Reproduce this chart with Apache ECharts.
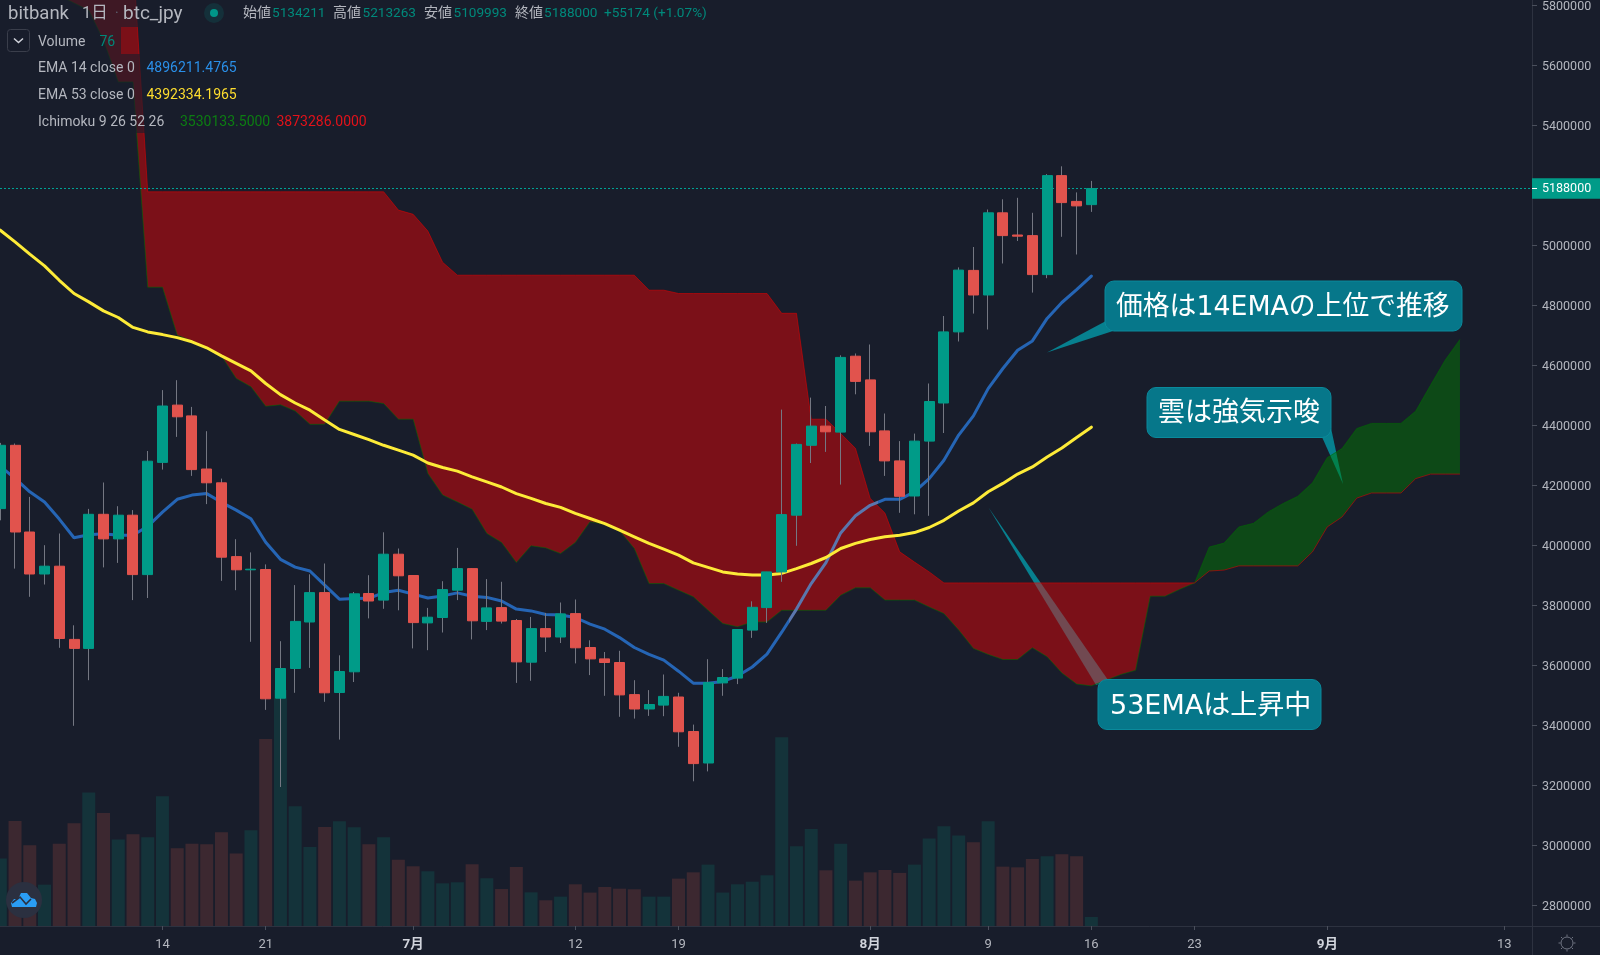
<!DOCTYPE html>
<html>
<head>
<meta charset="utf-8">
<title>bitbank btc_jpy</title>
<script src="https://cdn.jsdelivr.net/npm/echarts@6/dist/echarts.min.js"></script>
<style>
  html, body { margin: 0; padding: 0; background: #181d2b; }
  #chart { width: 1600px; height: 955px; }
</style>
</head>
<body>
<div id="chart"></div>
<script>
// all prices below are in thousands of yen, index 0 is 3 June
const opens = [4121,4332,4043,3903,3929,3685,3655,4102,4020,4099,3901,4275,4466,4430,4253,4207,3961,3917,3918,3489,3588,3743,3841,3508,3577,3838,3816,3969,3898,3740,3758,3849,3921,3745,3791,3748,3609,3721,3693,3771,3658,3620,3608,3501,3453,3466,3493,3378,3273,3540,3556,3716,3791,3910,4099,4332,4396,4376,4629,4550,4380,4280,4163,4346,4473,4710,4915,4833,5107,5033,5031,4901,5231,5145,5134.211];
const closes = [4332,4043,3903,3929,3688,3655,4102,4020,4099,3901,4279,4463,4427,4251,4207,3959,3917,3919,3487,3588,3745,3841,3507,3578,3837,3813,3969,3897,3741,3759,3851,3921,3747,3790,3746,3610,3721,3693,3770,3657,3620,3608,3500,3453,3468,3495,3377,3271,3541,3558,3718,3792,3910,4101,4335,4396,4377,4625,4545,4377,4280,4162,4346,4478,4710,4916,4833,5107,5031,5029,4901,5231,5141,5130,5188];
const lows = [4082,3921,3827,3868,3657,3397,3549,3925,3940,3816,3823,4251,4360,4230,4136,3880,3849,3677,3450,3193,3507,3590,3477,3351,3543,3755,3787,3782,3655,3649,3708,3816,3685,3716,3738,3540,3547,3643,3673,3605,3566,3497,3427,3421,3430,3429,3327,3212,3245,3497,3536,3690,3740,3877,3997,4273,4310,4201,4502,4330,4230,4107,4102,4097,4373,4678,4771,4718,4938,5013,4841,4889,5027,4968,5109.993];
const highs = [4340,4338,4160,3999,4038,3732,4120,4208,4129,4116,4313,4516,4549,4460,4379,4221,4019,3975,3935,3679,3866,3902,3938,3632,3843,3899,4042,3988,3899,3790,3879,3990,3922,3886,3877,3753,3760,3773,3808,3818,3682,3643,3647,3549,3516,3568,3507,3401,3619,3586,3719,3812,3910,4451,4338,4491,4463,4632,4638,4668,4438,4346,4371,4538,4763,4925,4993,5118,5152,5157,5107,5236,5262,5175,5213.263];
const volumes = [569,887,681,349,695,867,1126,954,729,774,749,1095,656,695,690,791,611,808,1579,1992,1011,667,836,884,833,690,749,560,504,462,360,369,521,403,312,498,284,217,248,352,282,329,315,310,248,248,400,453,518,282,352,374,428,1593,673,819,470,695,383,453,473,448,518,738,842,763,707,884,501,495,566,588,605,588,76];
const ema14 = [4262,4222,4177,4143,4086,4024,4034,4037,4032,4032,4062,4109,4152,4166,4171,4142,4116,4087,4009,3952,3926,3913,3866,3819,3821,3822,3841,3849,3836,3823,3830,3840,3829,3825,3813,3786,3780,3768,3766,3758,3736,3719,3691,3658,3635,3616,3579,3539,3539,3545,3563,3593,3636,3709,3786,3871,3941,4040,4097,4132,4152,4152,4177,4221,4282,4366,4430,4521,4588,4649,4680,4755,4808,4851,4896.211];
const ema53 = [5049,5010,4969,4930,4882,4838,4810,4780,4758,4725,4710,4701,4691,4677,4657,4630,4605,4580,4538,4501,4473,4449,4416,4385,4368,4351,4332,4316,4299,4273,4258,4246,4227,4210,4193,4171,4155,4138,4125,4105,4088,4071,4049,4027,4005,3986,3966,3940,3925,3910,3903,3900,3900,3905,3921,3938,3958,3988,4005,4018,4027,4032,4041,4058,4082,4113,4140,4177,4205,4236,4260,4293,4323,4358,4392.334];
// ichimoku spans, first value belongs to index 4 (off the top of the chart before that)
const spanA = [5832,5806,5782,5682,5543,5543,4859,4859,4699,4680,4657,4630,4555,4527,4462,4467,4446,4402,4402,4479,4479,4479,4471,4419,4419,4238,4166,4143,4119,4038,4008,3941,3997,3990,3971,4008,4077,4069,4047,3988,3871,3871,3849,3827,3782,3738,3727,3743,3743,3782,3782,3782,3782,3832,3857,3857,3816,3816,3816,3793,3771,3716,3655,3635,3618,3618,3657,3627,3573,3536,3530.133,3549,3568,3582,3829,3829,3852,3873.286,3993,4006,4060,4072,4110,4138,4162,4207,4291,4321,4388,4405,4405,4405,4446,4532,4616,4685];
const spanB = [6016,6016,6016,6016,6016,5959,5177,5177,5177,5177,5177,5177,5177,5177,5177,5177,5177,5177,5177,5177,5177,5177,5177,5116,5102,5046,4942,4899,4899,4899,4899,4899,4899,4899,4899,4899,4899,4899,4899,4899,4849,4849,4838,4838,4838,4838,4838,4838,4838,4772,4772,4419,4419,4371,4322,4155,4106,3977,3943,3910,3873.286,3873.286,3873.286,3873.286,3873.286,3873.286,3873.286,3873.286,3873.286,3873.286,3873.286,3873.286,3873.286,3873.286,3873.286,3873.286,3873.286,3873.286,3913,3916,3930,3930,3930,3930,3930,3977,4060,4093,4156,4173,4173,4173,4221,4236,4236,4236];
const spanStart = 4;
const crossDay = 81;
const spanEnd = 99;
const lastPrice = 5188000;

const priceTicks = [2800000,3000000,3200000,3400000,3600000,3800000,4000000,4200000,4400000,4600000,4800000,5000000,5200000,5400000,5600000,5800000];
const tickDays = [11,18,28,39,46,59,67,74,81,90,102];
const tickLabels = ['14','21','7月','12','19','8月','9','16','23','9月','13'];

const UI_FONT = "Roboto, 'Noto Sans CJK JP', sans-serif";
const CALLOUT_FONT = "'DejaVu Sans', 'Noto Sans CJK JP', sans-serif";
const BG = '#181d2b';
const LABEL = '#b4b7bf';
const UP = '#009b88';
const DOWN = '#e1534d';
const TEAL_TEXT = '#00897b';
const CALLOUT = '#06778a';
const AXIS_LINE = '#2d3240';
const X_MIN = -0.02;
const X_MAX = 103.886;

const yen = v => v * 1000;
const candleRows = opens.map((o, i) => [i, yen(o), yen(closes[i]), yen(lows[i]), yen(highs[i])]);
const bodyRows = opens.map((o, i) => [i, yen(o), yen(closes[i]), yen(Math.min(o, closes[i])), yen(Math.max(o, closes[i]))]);
const volumeRows = volumes.map((v, i) => ({
  value: [i, v],
  itemStyle: { color: closes[i] >= opens[i] ? '#14333a' : '#3c2830' }
}));
const lineRows = arr => arr.map((v, i) => [i, yen(v)]);
const spanRows = arr => arr.map((v, i) => [i + spanStart, yen(v)]);

// one polygon per cloud section, filled between the two spans
const cloudSections = [[spanStart, crossDay], [crossDay, spanEnd]];
const cloudFills = ['rgba(255,0,0,0.43)', 'rgba(0,128,0,0.45)'];
const renderCloud = (params, api) => {
  const section = cloudSections[params.dataIndex];
  const upper = [];
  const lower = [];
  for (let d = section[0]; d <= section[1]; d++) {
    upper.push(api.coord([d, yen(spanA[d - spanStart])]));
    lower.unshift(api.coord([d, yen(spanB[d - spanStart])]));
  }
  return {
    type: 'polygon',
    shape: { points: upper.concat(lower) },
    style: { fill: cloudFills[params.dataIndex] }
  };
};

// --- top left legend and other chart furniture ---
const txt = (x, y, text, fill, size) => ({
  type: 'text',
  z: 20,
  silent: true,
  style: {
    x, y, text, fill,
    font: (size || 14) + 'px ' + UI_FONT,
    textVerticalAlign: 'middle'
  }
});
const cover = (x, y, width, height) => ({
  type: 'rect', z: 15, silent: true,
  shape: { x, y, width, height },
  style: { fill: 'rgba(24,29,43,0.62)' }
});
const stub = (x1, y1, x2, y2, color) => ({
  type: 'line', z: 15, silent: true,
  shape: { x1, y1, x2, y2 },
  style: { stroke: color || AXIS_LINE, lineWidth: 1 }
});
const calloutBox = (x, y, width, height) => ({
  type: 'rect', z: 10, silent: true,
  shape: { x, y, width, height, r: 9 },
  style: { fill: CALLOUT, stroke: '#0a8a9c', lineWidth: 1 }
});
const pointer = points => ({
  type: 'polygon', z: 1, silent: true,
  shape: { points },
  style: { fill: '#07808f' }
});
const calloutText = (x, y, text, size) => ({
  type: 'text', z: 11, silent: true,
  style: { x, y, text, fill: '#ffffff', font: size + 'px ' + CALLOUT_FONT, textVerticalAlign: 'middle' }
});

const furniture = [
  cover(0, 0, 720, 27),
  cover(0, 27, 121, 27),
  cover(0, 54, 240, 26),
  cover(0, 80, 240, 27),
  cover(0, 107, 370, 26),

  txt(8, 14.5, 'bitbank', LABEL, 18.5),
  txt(82, 14, '1日', LABEL, 16.5),
  txt(115, 14, '·', '#5d6270', 14),
  txt(123, 14.5, 'btc_jpy', LABEL, 19),
  { type: 'circle', z: 20, silent: true, shape: { cx: 214, cy: 13, r: 10 }, style: { fill: 'rgba(0,150,136,0.16)' } },
  { type: 'circle', z: 21, silent: true, shape: { cx: 214, cy: 13, r: 4 }, style: { fill: '#009688' } },
  txt(243, 13.5, '始値', LABEL, 14),
  txt(272, 13.5, '5134211', TEAL_TEXT, 13.6),
  txt(333, 13.5, '高値', LABEL, 14),
  txt(362.5, 13.5, '5213263', TEAL_TEXT, 13.6),
  txt(424, 13.5, '安値', LABEL, 14),
  txt(453.5, 13.5, '5109993', TEAL_TEXT, 13.6),
  txt(515, 13.5, '終値', LABEL, 14),
  txt(544, 13.5, '5188000', TEAL_TEXT, 13.6),
  txt(604, 13.5, '+55174 (+1.07%)', TEAL_TEXT, 13.6),

  { type: 'rect', z: 20, silent: true, shape: { x: 7.5, y: 29.5, width: 22, height: 22, r: 3 }, style: { fill: BG, stroke: '#3a3e4b', lineWidth: 1 } },
  { type: 'polyline', z: 21, silent: true, shape: { points: [[14, 38.5], [18.5, 42.5], [23, 38.5]] }, style: { stroke: '#d1d4dc', lineWidth: 1.5, fill: null } },
  txt(38, 42, 'Volume', LABEL),
  txt(99.5, 42, '76', TEAL_TEXT),
  txt(38, 68.5, 'EMA 14 close 0', LABEL),
  txt(146.5, 68.5, '4896211.4765', '#2a8fe8'),
  txt(38, 95.5, 'EMA 53 close 0', LABEL),
  txt(146.5, 95.5, '4392334.1965', '#fddc2e'),
  txt(38, 122.5, 'Ichimoku 9 26 52 26', LABEL),
  txt(180, 122.5, '3530133.5000', '#0c7d12'),
  txt(276.5, 122.5, '3873286.0000', '#e2121a'),

  pointer([[1105, 321.5], [1113, 331], [1047, 352.5]]),
  calloutBox(1105, 281, 357, 50),
  calloutText(1116, 308, '価格は14EMAの上位で推移', 26.8),
  pointer([[1331, 428], [1322, 437], [1343, 484]]),
  calloutBox(1147, 387.5, 184, 50),
  calloutText(1158, 414, '雲は強気示唆', 27),
  pointer([[1096, 685], [1108, 680], [988.5, 507.5]]),
  calloutBox(1098, 679.5, 223, 50),
  calloutText(1110, 707, '53EMAは上昇中', 27),

  stub(1532.5, 926, 1532.5, 955),
  stub(1532, 926.5, 1600, 926.5),
  stub(1532, 188.5, 1537, 188.5, '#ffffff'),

  // logo bubble, bottom left
  { type: 'circle', z: 16, silent: true, shape: { cx: 24, cy: 900, r: 18 }, style: { fill: '#2b3040' } },
  { type: 'polygon', z: 17, silent: true, shape: { points: [[12, 907], [11, 903], [14, 899], [18, 899], [21, 893], [27, 893], [31, 898], [35, 899], [37, 903], [36, 907]] }, style: { fill: '#2a9df4' } },
  { type: 'polyline', z: 18, silent: true, shape: { points: [[12, 903], [20, 897], [26, 904], [31, 899]] }, style: { stroke: '#2b3040', lineWidth: 1.6, fill: null } },

  // settings gear, bottom right
  { type: 'circle', z: 16, silent: true, shape: { cx: 1567, cy: 943, r: 6 }, style: { fill: 'none', stroke: '#6f7482', lineWidth: 1 } },
  stub(1567, 934.5, 1567, 936.5, '#6f7482'),
  stub(1567, 949.5, 1567, 951.5, '#6f7482'),
  stub(1558.5, 943, 1560.5, 943, '#6f7482'),
  stub(1573.5, 943, 1575.5, 943, '#6f7482'),
  stub(1561, 937, 1562.5, 938.5, '#6f7482'),
  stub(1571.5, 947.5, 1573, 949, '#6f7482'),
  stub(1573, 937, 1571.5, 938.5, '#6f7482'),
  stub(1562.5, 947.5, 1561, 949, '#6f7482')
];

const chart = echarts.init(document.getElementById('chart'));

const option = {
  animation: false,
  backgroundColor: BG,
  textStyle: { fontFamily: UI_FONT },
  grid: { left: 0, top: 0, width: 1532, height: 926, containLabel: false },
  xAxis: {
    type: 'value',
    min: X_MIN,
    max: X_MAX,
    splitLine: { show: false },
    axisLine: { show: true, onZero: false, lineStyle: { color: AXIS_LINE } },
    axisTick: { show: true, length: 4, customValues: tickDays, lineStyle: { color: '#4a4f5c' } },
    axisLabel: {
      customValues: tickDays,
      margin: 12,
      color: LABEL,
      fontSize: 13,
      fontFamily: UI_FONT,
      formatter: v => {
        const label = tickLabels[tickDays.indexOf(v)];
        return label.indexOf('月') > 0 ? '{m|' + label + '}' : label;
      },
      rich: { m: { color: '#d1d4dc', fontSize: 13.5, fontWeight: 'bold', fontFamily: UI_FONT } }
    }
  },
  yAxis: [
    {
      type: 'value',
      position: 'right',
      min: 2729667,
      max: 5816333,
      splitLine: { show: false },
      axisLine: { show: true, onZero: false, lineStyle: { color: AXIS_LINE } },
      axisTick: { show: true, length: 5, customValues: priceTicks, lineStyle: { color: '#4a4f5c' } },
      axisLabel: {
        customValues: priceTicks,
        margin: 10,
        color: LABEL,
        fontSize: 12.5,
        fontFamily: UI_FONT,
        formatter: v => '{p|' + v + '}',
        rich: { p: { color: LABEL, fontSize: 12.5, fontFamily: UI_FONT, padding: [3, 0, 0, 0] } }
      }
    },
    { type: 'value', min: 0, max: 7815, show: false }
  ],
  visualMap: {
    show: false,
    seriesIndex: 4,
    dimension: 0,
    pieces: [
      { lt: 53.5, color: '#2565b5' },
      { gte: 53.5, lte: 59.5, color: '#5a76ad' },
      { gt: 59.5, color: '#2565b5' }
    ]
  },
  graphic: furniture,
  series: [
    {
      name: 'Volume', type: 'bar', z: 1, yAxisIndex: 1, barWidth: 13,
      data: volumeRows
    },
    {
      name: 'Ichimoku cloud', type: 'custom', z: 2, clip: true, silent: true,
      renderItem: renderCloud,
      encode: { x: [0, 1] },
      data: cloudSections
    },
    {
      name: 'Span A', type: 'line', z: 3, showSymbol: false, silent: true,
      lineStyle: { color: 'rgba(0,110,0,0.55)', width: 1 },
      data: spanRows(spanA)
    },
    {
      name: 'Span B', type: 'line', z: 3, showSymbol: false, silent: true,
      lineStyle: { color: 'rgba(225,0,0,0.55)', width: 1 },
      data: spanRows(spanB)
    },
    {
      name: 'EMA 14', type: 'line', z: 3, showSymbol: false, silent: true,
      lineStyle: { width: 3, cap: 'round' },
      data: lineRows(ema14)
    },
    {
      name: 'EMA 53', type: 'line', z: 3, showSymbol: false, silent: true,
      lineStyle: { color: '#fdeb38', width: 3, cap: 'round' },
      data: lineRows(ema53)
    },
    {
      name: 'Last price', type: 'line', z: 3, showSymbol: false, silent: true,
      lineStyle: { color: '#00a396', type: [2, 2], width: 1 },
      endLabel: {
        show: true,
        distance: 0,
        formatter: () => String(lastPrice),
        color: '#ffffff',
        fontSize: 12.5,
        fontFamily: UI_FONT,
        backgroundColor: '#009b88',
        padding: [4, 9, 4, 10]
      },
      data: [[X_MIN, lastPrice], [X_MAX, lastPrice]]
    },
    {
      name: 'wicks', type: 'candlestick', z: 4, barWidth: 1, silent: true,
      itemStyle: { color: '#747782', color0: '#747782', borderColor: '#747782', borderColor0: '#747782', borderWidth: 1 },
      data: candleRows
    },
    {
      name: 'btc_jpy', type: 'candlestick', z: 5, barWidth: 10.5, silent: true,
      itemStyle: { color: UP, color0: DOWN, borderColor: UP, borderColor0: DOWN, borderWidth: 1 },
      data: bodyRows
    }
  ]
};

chart.setOption(option);
window.addEventListener('resize', () => chart.resize());
</script>
</body>
</html>
